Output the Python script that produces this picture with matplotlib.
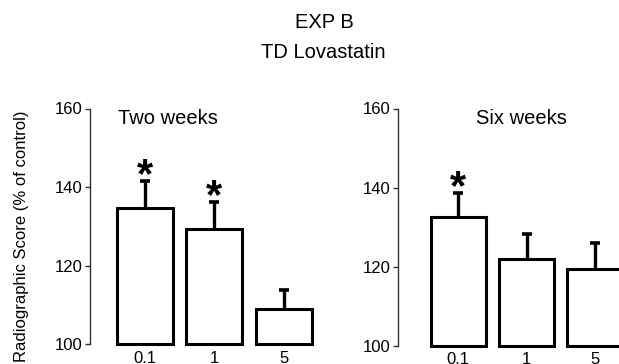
import matplotlib
matplotlib.use("Agg")
import matplotlib.pyplot as plt

plt.rcParams['font.family'] = ['Liberation Sans', 'DejaVu Sans']

doses = ["0.1", "1", "5"]
two_weeks_mean = [134.6, 129.3, 109.1]
two_weeks_err = [7.0, 6.9, 4.8]
two_weeks_sig = [True, True, False]
six_weeks_mean = [132.5, 122.0, 119.4]
six_weeks_err = [6.2, 6.2, 6.5]
six_weeks_sig = [True, False, False]
yticks = [100, 120, 140, 160]

W, H = 619, 364
fig = plt.figure(figsize=(W / 100, H / 100), dpi=100)

def make_panel(px_left, px_y100, px_y160, spacing, xmin, xmax, means, errs, sigs, label, label_xy, bw):
    left = px_left / W
    bottom = 1 - px_y100 / H
    height = (px_y100 - px_y160) / H
    width = (xmax - xmin) * spacing / W
    ax = fig.add_axes([left, bottom, width, height])
    ax.set_xlim(xmin, xmax)
    ax.set_ylim(100, 160)
    x = list(range(len(means)))
    ax.bar(x, [m - 100 for m in means], bottom=100, width=bw, color='white',
           edgecolor='black', linewidth=2.2, zorder=3, clip_on=False)
    eb = ax.errorbar(x, means, yerr=[[0] * len(errs), errs], fmt='none', ecolor='black',
                     elinewidth=2.4, capsize=3.8, capthick=2.6, zorder=2, clip_on=False)
    caps = eb[1]
    if len(caps) == 2:
        caps[0].set_visible(False)
    for xi, m, e, s in zip(x, means, errs, sigs):
        if s:
            ax.annotate('*', xy=(xi, m + e), xytext=(0, -4.5), textcoords='offset points',
                        ha='center', va='baseline', fontsize=30, fontweight='bold',
                        annotation_clip=False)
    for side in ['top', 'right', 'bottom']:
        ax.spines[side].set_visible(False)
    ax.spines['left'].set_linewidth(1.0)
    ax.spines['left'].set_color('#333333')
    ax.set_yticks(yticks)
    ax.set_yticklabels([str(v) for v in yticks])
    ax.tick_params(axis='y', direction='out', length=3.5, width=1.0, color='#333333',
                   labelsize=12, pad=2)
    ax.set_xticks(x)
    ax.set_xticklabels(doses)
    ax.tick_params(axis='x', length=0, labelsize=12, pad=5)
    fig.text(label_xy[0] / W, 1 - label_xy[1] / H, label, fontsize=14.5,
             ha='center', va='center')
    ax.patch.set_visible(False)
    return ax

make_panel(90, 344.3, 108.5, 69.5, -0.79, 2.7, two_weeks_mean, two_weeks_err,
           two_weeks_sig, "Two weeks", (168, 119), 0.806)
make_panel(398.3, 345.5, 108.5, 68.2, -0.88, 2.9, six_weeks_mean, six_weeks_err,
           six_weeks_sig, "Six weeks", (521, 119), 0.81)

fig.text(324.5 / W, 1 - 23 / H, "EXP B", fontsize=14.5, ha='center', va='center')
fig.text(323 / W, 1 - 52 / H, "TD Lovastatin", fontsize=14.5, ha='center', va='center')
fig.text(22 / W, 1 - 236 / H, "Radiographic Score (% of control)", fontsize=12,
         rotation=90, ha='center', va='center')

fig.savefig("out.png", dpi=100)
